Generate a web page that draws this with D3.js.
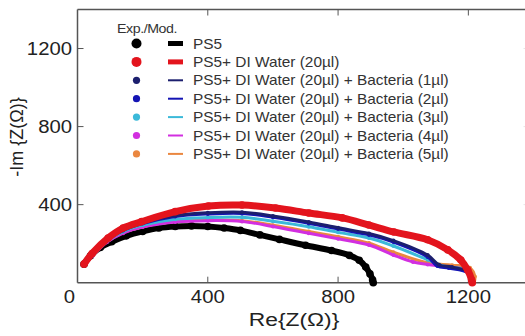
<!DOCTYPE html>
<html>
<head>
<meta charset="utf-8">
<script src="https://cdn.jsdelivr.net/npm/d3@7"></script>
<style>
	html, body { margin: 0; padding: 0; background: #fff; }
	svg { display: block; font-family: 'Liberation Sans', Arial, sans-serif; }
</style>
</head>
<body>
<svg id="chart" width="525" height="336"></svg>
<script>
// Nyquist plot: Re{Z} vs -Im{Z} (ohm)

const seriesNames = [
	'PS5',
	'PS5+ DI Water (20\u00b5l)',
	'PS5+ DI Water (20\u00b5l) + Bacteria (1\u00b5l)',
	'PS5+ DI Water (20\u00b5l) + Bacteria (2\u00b5l)',
	'PS5+ DI Water (20\u00b5l) + Bacteria (3\u00b5l)',
	'PS5+ DI Water (20\u00b5l) + Bacteria (4\u00b5l)',
	'PS5+ DI Water (20\u00b5l) + Bacteria (5\u00b5l)'
]
const seriesColors = ['#000000', '#e3141d', '#1c1f6e', '#1414b4', '#3bb9d9', '#d22fe0', '#ea8740']

const ps5 = [[20, 95], [40, 138], [70, 180], [105, 210], [150, 240], [200, 263], [250, 280], [300, 288],
	[350, 291], [400, 288], [450, 280], [500, 268], [560, 245], [620, 222], [700, 192], [780, 165],
	[835, 140], [865, 115], [885, 80], [898, 45], [906, 15], [908, 0]]
const water = [[20, 95], [45, 150], [94, 229], [140, 280], [197, 313], [300, 364], [402, 393], [505, 398],
	[608, 383], [710, 357], [813, 332], [894, 296], [971, 260], [1075, 220], [1137, 168], [1177, 116],
	[1198, 65], [1210, 15], [1212, 0]]
const bact1 = [[20, 95], [45, 141], [90, 218], [140, 272], [200, 308], [300, 344], [400, 358], [505, 361],
	[600, 342], [710, 311], [800, 282], [895, 252], [970, 216], [1075, 142], [1110, 92], [1150, 80],
	[1200, 56], [1215, 0]]
const bact2 = [[20, 95], [45, 140], [90, 215], [140, 268], [200, 303], [300, 339], [400, 352], [505, 355],
	[600, 335], [710, 304], [800, 275], [895, 245], [970, 208], [1075, 132], [1105, 85], [1140, 75],
	[1200, 50], [1214, 0]]
const bact3 = [[20, 95], [45, 138], [90, 212], [140, 262], [200, 295], [300, 325], [400, 334], [505, 335],
	[600, 315], [710, 287], [800, 258], [895, 229], [970, 188], [1075, 118], [1130, 82], [1190, 66], [1215, 0]]
const bact4 = [[20, 95], [45, 136], [90, 207], [140, 254], [200, 285], [300, 311], [400, 318], [505, 314],
	[600, 288], [710, 253], [800, 225], [895, 193], [970, 142], [1030, 106], [1075, 93], [1140, 80],
	[1200, 60], [1212, 0]]
const bact5 = [[20, 95], [45, 137], [90, 209], [140, 256], [200, 287], [300, 313], [400, 320], [505, 318],
	[600, 294], [710, 262], [800, 235], [895, 203], [970, 156], [1075, 102], [1150, 90], [1205, 76],
	[1220, 32], [1218, 0]]
const seriesData = [ps5, water, bact1, bact2, bact3, bact4, bact5]

const xTicks = [0, 400, 800, 1200]
const yTicks = [400, 800, 1200]

const svg = d3.select('#chart')

const x = d3.scaleLinear().domain([0, 1400]).range([77.5, 533.5])
const y = d3.scaleLinear().domain([0, 1400]).range([282.7, 9.5])

const axisColor = '#555'
const tickLen = 6
const textColor = '#222'

// the source picture is stretched sideways, so horizontal text gets a scaleX
function stretchedText(parent, tx, ty, str, size, anchor, sx) {
	return parent.append('text')
		.attr('transform', `translate(${tx},${ty}) scale(${sx},1)`)
		.attr('text-anchor', anchor)
		.style('font-size', size)
		.style('fill', textColor)
		.text(str)
}

// frame + ticks
svg.append('line').attr('x1', x(0)).attr('x2', 525).attr('y1', y(0)).attr('y2', y(0))
	.attr('stroke', axisColor).attr('stroke-width', 1.5)
svg.append('line').attr('x1', x(0)).attr('x2', 525).attr('y1', y(1400)).attr('y2', y(1400))
	.attr('stroke', axisColor).attr('stroke-width', 1.5)
svg.append('line').attr('x1', x(0)).attr('x2', x(0)).attr('y1', y(0)).attr('y2', y(1400))
	.attr('stroke', axisColor).attr('stroke-width', 1.5)

const ticks = svg.append('g').attr('stroke', axisColor).attr('stroke-width', 1)
xTicks.filter(d => d > 0).forEach(d => {
	ticks.append('line').attr('x1', x(d)).attr('x2', x(d)).attr('y1', y(0)).attr('y2', y(0) - tickLen)
	ticks.append('line').attr('x1', x(d)).attr('x2', x(d)).attr('y1', y(1400)).attr('y2', y(1400) + tickLen)
})
yTicks.forEach(d => {
	ticks.append('line').attr('x1', x(0)).attr('x2', x(0) + tickLen).attr('y1', y(d)).attr('y2', y(d))
	// right axis lies just outside the crop, only its ticks show faintly
	svg.append('line').attr('x1', x(1400) - 10).attr('x2', x(1400)).attr('y1', y(d)).attr('y2', y(d))
		.attr('stroke', '#e6e6e6').attr('stroke-width', 1)
})

// tick labels
const labelFont = '17.5px'
const xLab = svg.append('g')
xTicks.forEach(d => stretchedText(xLab, x(d) + (d === 0 ? -8 : 0), 303, d, labelFont, 'middle', 1.16))
const yLab = svg.append('g')
yTicks.forEach(d => stretchedText(yLab, 72, y(d) + 6, d, labelFont, 'end', 1.16))

// axis titles
stretchedText(svg, 294, 326, 'Re{Z(\u03a9)}', '19px', 'middle', 1.2)
svg.append('text').attr('transform', 'translate(23,137) rotate(-90)')
	.attr('text-anchor', 'middle').style('font-size', '18px').style('fill', textColor)
	.text('-Im {Z(\u03a9)}')

// curves
const line = d3.line().x(d => x(d[0])).y(d => y(d[1])).curve(d3.curveCatmullRom.alpha(0.5))
const plot = svg.append('g')
const isBig = i => i < 2
const drawOrder = [0, 6, 5, 4, 3, 2, 1]
drawOrder.forEach(i => {
	plot.append('path').datum(seriesData[i])
		.attr('d', line)
		.attr('fill', 'none')
		.attr('stroke', seriesColors[i])
		.attr('stroke-width', i === 1 ? 7 : i === 0 ? 6 : 3)
		.attr('stroke-linejoin', 'round')
	plot.append('g').selectAll('circle').data(seriesData[i]).join('circle')
		.attr('cx', d => x(d[0])).attr('cy', d => y(d[1]))
		.attr('r', isBig(i) ? 3.8 : 2)
		.attr('fill', seriesColors[i])
})

// legend
const legend = svg.append('g')
legend.append('text').attr('transform', 'translate(117,33) scale(1.05,1)')
	.style('font-size', '13.5px').style('fill', '#333').style('letter-spacing', '-0.4px')
	.text('Exp./Mod.')
seriesNames.forEach((name, i) => {
	const ly = 43.5 + i * 18.4
	legend.append('circle').attr('cx', 136.5).attr('cy', ly)
		.attr('r', isBig(i) ? 5 : 3.6).attr('fill', seriesColors[i])
	legend.append('line').attr('x1', 168).attr('x2', 183).attr('y1', ly).attr('y2', ly)
		.attr('stroke', seriesColors[i]).attr('stroke-width', isBig(i) ? 5 : 2)
	legend.append('text').attr('transform', `translate(193,${ly + 5}) scale(1.1,1)`)
		.style('font-size', '14px').style('fill', '#333')
		.text(name)
})
</script>
</body>
</html>
